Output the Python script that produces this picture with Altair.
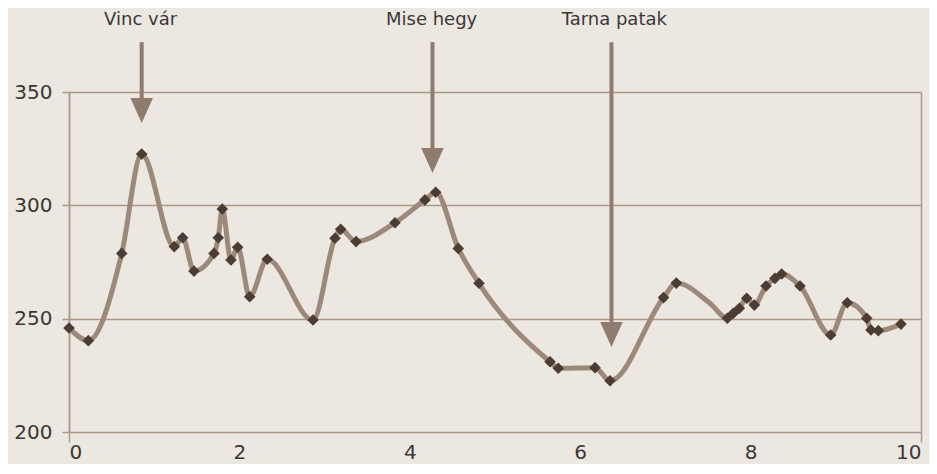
import altair as alt
import pandas as pd

# ---- data ----
dist = [0.0, 0.227, 0.619, 0.853, 1.236, 1.334, 1.467, 1.702, 1.752, 1.799,
        1.901, 1.980, 2.121, 2.327, 2.864, 3.122, 3.189, 3.369, 3.826, 4.178,
        4.304, 4.569, 4.812, 5.646, 5.743, 6.174, 6.350, 6.978, 7.128, 7.520,
        7.727, 7.797, 7.868, 7.954, 8.044, 8.181, 8.286, 8.365, 8.580, 8.940,
        9.135, 9.363, 9.413, 9.499, 9.765]
elev = [245.9, 240.3, 278.8, 322.6, 281.8, 285.7, 271.0, 278.8, 285.7, 298.4,
        275.9, 281.5, 259.7, 276.2, 249.4, 285.5, 289.4, 284.0, 292.3, 302.4,
        305.8, 281.0, 265.6, 231.0, 228.1, 228.4, 222.6, 259.3, 265.7, 256.9,
        250.2, 252.4, 254.6, 259.0, 256.0, 264.4, 267.8, 269.7, 264.4, 242.8,
        257.0, 250.2, 245.0, 244.7, 247.6]
marker = [True] * 29 + [False] + [True] * 15

ann_labels = ["Vinc vár", "Mise hegy", "Tarna patak"]
ann_x = [0.853, 4.266, 6.367]
ann_label_x = [0.84, 4.256, 6.40]
ann_tip = [336.3, 314.3, 237.5]
ann_top = [372.0, 372.0, 372.0]
ann_label_y = [381.8, 381.8, 381.8]

x_ticks = [0, 2, 4, 6, 8, 10]
y_ticks = [200, 250, 300, 350]

# ---- tables ----
prof = pd.DataFrame({"dist": dist, "elev": elev, "marker": marker})
ann = pd.DataFrame({"label": ann_labels, "x": ann_x, "lx": ann_label_x,
                    "tip": ann_tip, "top": ann_top, "ly": ann_label_y})
ann["base"] = ann["tip"] + 10.0

LINE = "#9c897c"
ARROW = "#8f7b70"
MARK = "#4b3c34"
GRID = "#ad9787"
TEXT = "#3a3735"
FONT = "DejaVu Sans"

xs = alt.Scale(domain=[0, 10], nice=False, zero=False)
ys = alt.Scale(domain=[200, 350], nice=False, zero=False)

edge = {"condition": {"test": "datum.value == 0 || datum.value == 10", "value": 1}, "value": 0}

xaxis = alt.Axis(values=x_ticks, format="d", title=None, grid=True, gridColor=GRID,
                 gridWidth=1.5, gridOpacity=edge, domain=False, ticks=True,
                 tickColor=GRID, tickWidth=1.5, tickSize=10, tickOpacity=edge,
                 labelFontSize=20, labelFont=FONT, labelColor=TEXT, labelPadding=0)
yaxis = alt.Axis(values=y_ticks, title=None, grid=True, gridColor=GRID, gridWidth=1.5,
                 domain=True, domainColor=GRID, domainWidth=1.5, tickColor=GRID,
                 tickWidth=1.5, tickSize=7, labelFontSize=20, labelFont=FONT,
                 labelColor=TEXT, labelPadding=10)

base = alt.Chart(prof)
line = base.mark_line(interpolate="monotone", color=LINE, strokeWidth=5).encode(
    x=alt.X("dist:Q", scale=xs, axis=xaxis),
    y=alt.Y("elev:Q", scale=ys, axis=yaxis),
)
pts = base.transform_filter("datum.marker").mark_point(
    shape="diamond", filled=True, color=MARK, size=135, opacity=1
).encode(x=alt.X("dist:Q", scale=xs), y=alt.Y("elev:Q", scale=ys))

achart = alt.Chart(ann)
shaft = achart.mark_rule(color=ARROW, strokeWidth=4).encode(
    x=alt.X("x:Q", scale=xs), y=alt.Y("top:Q", scale=ys), y2="base:Q"
)
head = achart.mark_point(
    shape="M-0.9,-2L0.9,-2L0,0Z", filled=True, color=ARROW, size=625, opacity=1
).encode(x=alt.X("x:Q", scale=xs), y=alt.Y("tip:Q", scale=ys))
labels = achart.mark_text(fontSize=18, font=FONT, color=TEXT, baseline="middle",
                          align="center").encode(
    x=alt.X("lx:Q", scale=xs), y=alt.Y("ly:Q", scale=ys), text="label:N"
)

chart = alt.layer(line, pts, shaft, head, labels).properties(
    width=852, height=340,
    autosize=alt.AutoSizeParams(type="none"),
    padding={"left": 61, "top": 84, "right": 8, "bottom": 32},
    background="#ece8e1",
).configure_view(stroke=None)

chart.save("out.html", embed_options={"renderer": "svg", "actions": False})
